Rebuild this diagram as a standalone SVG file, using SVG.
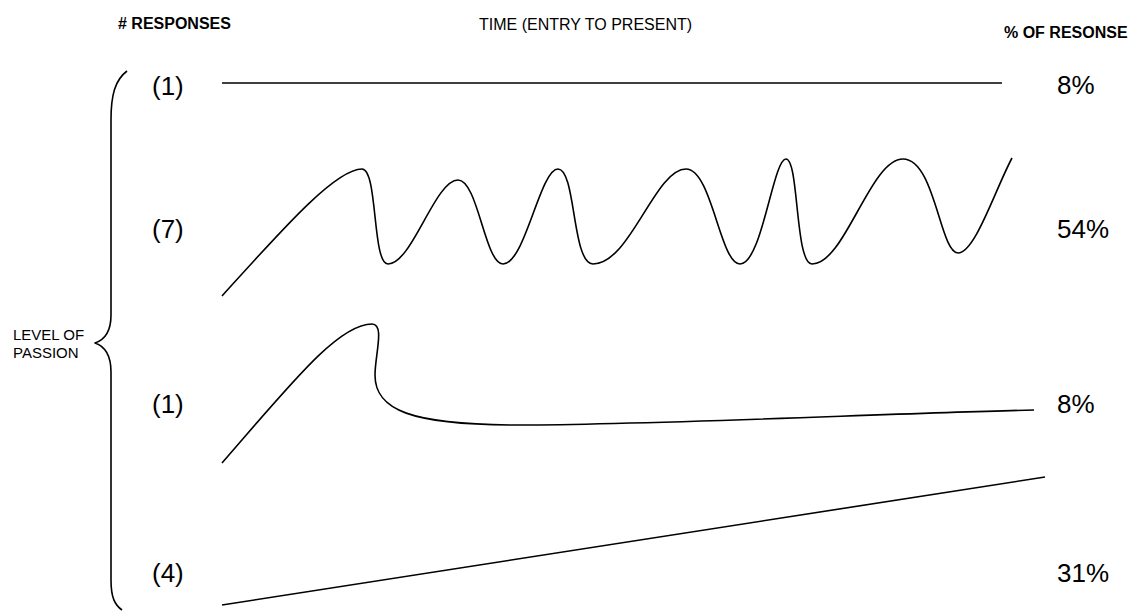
<svg xmlns="http://www.w3.org/2000/svg" width="1128" height="613" viewBox="0 0 1128 613">
<style>
.ln{fill:none;stroke:#000;stroke-width:1.6;stroke-linecap:butt;stroke-linejoin:round}
.hb{font-family:"Liberation Sans",Arial,sans-serif;font-weight:bold;font-size:16px;fill:#000}
.hr{font-family:"Liberation Sans",Arial,sans-serif;font-size:16px;fill:#000}
.big{font-family:"Liberation Sans",Arial,sans-serif;font-size:26px;fill:#000}
.sm{font-family:"Liberation Sans",Arial,sans-serif;font-size:15px;fill:#000}
</style>
<rect width="1128" height="613" fill="#fff"/>
<g id="headers">
<text class="hb" x="118" y="29"># RESPONSES</text>
<text class="hr" x="479" y="30">TIME (ENTRY TO PRESENT)</text>
<text class="hb" x="1004" y="38" font-size="15">% OF RESONSE</text>
</g>
<g id="axis-label">
<path class="ln" d="M127,71 C115,80 111,95 111,120 L111,315 C111,332 104,340 95,343 C104,346 111,354 111,372 L111,580 C111,598 115,605 122,610"/>
<text class="sm" x="13" y="340">LEVEL OF</text>
<text class="sm" x="13" y="358">PASSION</text>
</g>
<g id="row1">
<text class="big" x="152" y="95">(1)</text>
<text class="big" x="1057" y="94">8%</text>
</g>
<g id="row2">
<text class="big" x="152" y="238">(7)</text>
<text class="big" x="1057" y="238">54%</text>
</g>
<g id="row3">
<text class="big" x="152" y="413">(1)</text>
<text class="big" x="1057" y="413">8%</text>
</g>
<g id="row4">
<text class="big" x="152" y="582">(4)</text>
<text class="big" x="1057" y="582">31%</text>
</g>
<g id="connectors">
<line class="ln" x1="222" y1="83" x2="1002" y2="83"/>
<path class="ln" d="M222,296 C280,232 335,169 362,169 C378,169 372,264 388,264 C412,264 435,180 458,180 C478,180 485,264 503,264 C525,264 540,169 558,169 C576,169 572,264 593,264 C630,264 655,169 686,169 C712,169 720,264 740,264 C762,264 773,159 786,159 C799,159 795,264 812,264 C845,264 870,159 903,159 C935,159 940,253 958,253 C975,253 995,190 1012,158"/>
<path class="ln" d="M222,463 C290,385 338,324 372,324 C385,324 375,355 375,375 C375,410 410,425 520,425 C650,425 900,413 1034,410"/>
<line class="ln" x1="222" y1="605" x2="1045" y2="477"/>
</g>
</svg>
